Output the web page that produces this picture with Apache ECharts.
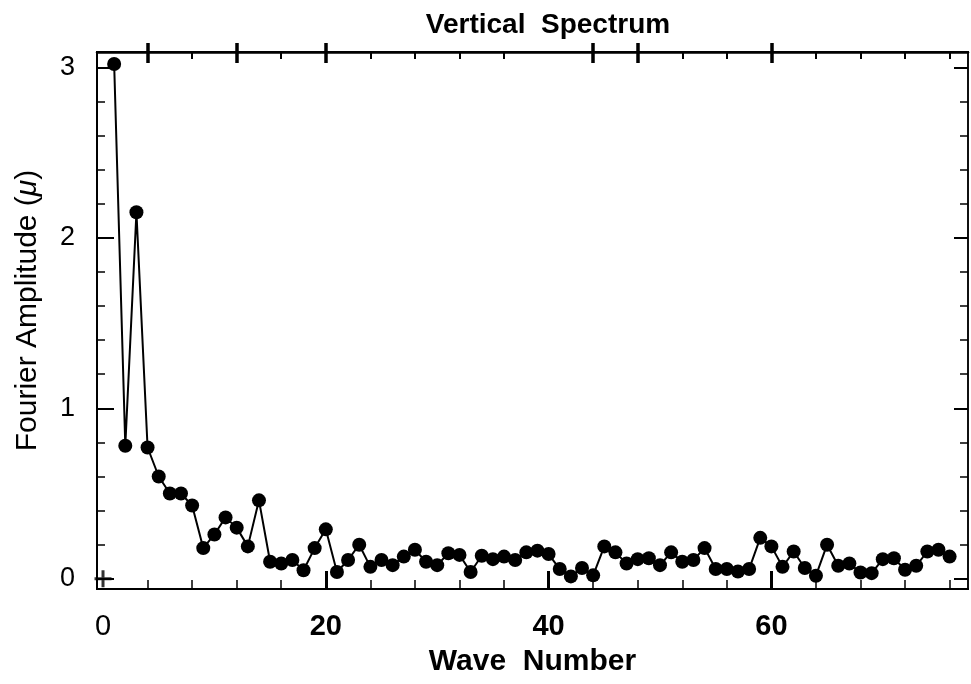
<!DOCTYPE html>
<html>
<head>
<meta charset="utf-8">
<script src="https://cdn.jsdelivr.net/npm/echarts@6/dist/echarts.min.js"></script>
<style>
html,body{margin:0;padding:0;background:#fff;}
#c{width:971px;height:684px;}
</style>
</head>
<body>
<div id="c"></div>
<script>
const waveNumbers = [1,2,3,4,5,6,7,8,9,10,11,12,13,14,15,16,17,18,19,20,21,22,23,24,25,26,27,28,29,30,31,32,33,34,35,36,37,38,39,40,41,42,43,44,45,46,47,48,49,50,51,52,53,54,55,56,57,58,59,60,61,62,63,64,65,66,67,68,69,70,71,72,73,74,75,76];
const amplitudes = [3.02,0.78,2.15,0.77,0.60,0.50,0.50,0.43,0.18,0.26,
  0.36,0.30,0.19,0.46,0.10,0.09,0.11,0.05,0.18,0.29,
  0.04,0.11,0.20,0.07,0.11,0.08,0.13,0.17,0.10,0.08,
  0.15,0.14,0.04,0.135,0.115,0.13,0.11,0.155,0.165,0.145,
  0.057,0.014,0.063,0.02,0.19,0.155,0.09,0.115,0.12,0.08,
  0.155,0.10,0.11,0.18,0.057,0.057,0.043,0.057,0.24,0.19,
  0.07,0.16,0.063,0.018,0.20,0.076,0.09,0.037,0.033,0.115,
  0.12,0.053,0.076,0.16,0.17,0.13];
const originMark = [[0, 0]];

const xMinorTicks = [4,8,12,16,24,28,32,36,44,48,52,56,64,68,72,76];
const xMajorTicks = [20,40,60];
const xLabels = [0,20,40,60];
const topMinorTicks = [8,16,24,28,32,36,52,56,64,68,72,76];
const topMajorTicks = [4,12,20,44,48,60];
const yMinorTicks = [0.2,0.4,0.6,0.8,1.2,1.4,1.6,1.8,2.2,2.4,2.6,2.8];
const yMajorTicks = [0,1,2,3];
const yLabels = [0,1,2,3];

const title = 'Vertical  Spectrum';
const xName = 'Wave  Number';

const FONT = '"Liberation Sans", Arial, Helvetica, sans-serif';
const X_MIN = -0.54, X_MAX = 77.65, Y_MIN = -0.06, Y_MAX = 3.09;

function xAx(o) {
  return Object.assign({
    type: 'value', min: X_MIN, max: X_MAX, gridIndex: 0,
    splitLine: {show: false},
    axisLine: {show: true, onZero: false, lineStyle: {color: '#000', width: 2}},
    axisLabel: {show: false},
    axisTick: {show: false}
  }, o);
}
function yAx(o) {
  return Object.assign({
    type: 'value', min: Y_MIN, max: Y_MAX, gridIndex: 0,
    splitLine: {show: false},
    axisLine: {show: true, onZero: false, lineStyle: {color: '#000', width: 1.5}},
    axisLabel: {show: false},
    axisTick: {show: false}
  }, o);
}

const chart = echarts.init(document.getElementById('c'), null, {renderer: 'canvas'});
chart.setOption({
  backgroundColor: '#fff',
  animation: false,
  title: {
    text: title, left: 543, top: 6, textAlign: 'center',
    textStyle: {fontFamily: FONT, fontSize: 28, fontWeight: 'bold', color: '#000'}
  },
  grid: {left: 97, right: 3, top: 52, bottom: 95, containLabel: false},
  xAxis: [
    xAx({
      position: 'bottom',
      name: xName, nameLocation: 'middle', nameGap: 58,
      nameTextStyle: {fontFamily: FONT, fontSize: 30, fontWeight: 'bold', color: '#000'},
      axisTick: {show: true, inside: true, length: 9, customValues: xMinorTicks, lineStyle: {color: '#000', width: 1.5}},
      axisLabel: {
        show: true, customValues: xLabels, margin: 23,
        formatter: v => (v === 0 ? '{r|0}' : '{b|' + v + '}'),
        rich: {
          r: {fontFamily: FONT, fontSize: 29, color: '#000'},
          b: {fontFamily: FONT, fontSize: 29, fontWeight: 'bold', color: '#000'}
        }
      }
    }),
    xAx({
      position: 'bottom',
      axisTick: {show: true, inside: true, length: 18, customValues: xMajorTicks, lineStyle: {color: '#000', width: 3}}
    }),
    xAx({
      position: 'top',
      axisLine: {show: true, onZero: false, lineStyle: {color: '#000', width: 2.5}},
      axisTick: {show: true, inside: true, length: 7, customValues: topMinorTicks, lineStyle: {color: '#000', width: 2}}
    }),
    xAx({
      position: 'top',
      axisTick: {show: true, inside: true, length: 11, customValues: topMajorTicks, lineStyle: {color: '#000', width: 3.5}}
    }),
    xAx({
      position: 'top',
      axisTick: {show: true, inside: false, length: 9, customValues: topMajorTicks, lineStyle: {color: '#000', width: 3.5}}
    })
  ],
  yAxis: [
    yAx({
      position: 'left',
      name: '{t|Fourier Amplitude (}{i|\u03bc}{t|)}', nameLocation: 'middle', nameGap: 54, nameRotate: 90,
      nameTextStyle: {fontFamily: FONT, fontSize: 30, color: '#000', padding: [0, 0, 0, 20],
        rich: {
          t: {fontFamily: FONT, fontSize: 30, color: '#000'},
          i: {fontFamily: FONT, fontSize: 30, fontStyle: 'italic', color: '#000'}
        }},
      axisLine: {show: true, onZero: false, lineStyle: {color: '#000', width: 2}},
      axisTick: {show: true, inside: true, length: 8, customValues: yMinorTicks, lineStyle: {color: '#000', width: 1.5}},
      axisLabel: {show: true, customValues: yLabels, margin: 22,
        fontFamily: FONT, fontSize: 27, color: '#000'}
    }),
    yAx({
      position: 'left',
      axisTick: {show: true, inside: true, length: 17, customValues: yMajorTicks, lineStyle: {color: '#000', width: 2}}
    }),
    yAx({
      position: 'right',
      axisTick: {show: true, inside: true, length: 8, customValues: yMinorTicks, lineStyle: {color: '#000', width: 1.5}}
    }),
    yAx({
      position: 'right',
      axisTick: {show: true, inside: true, length: 14, customValues: yMajorTicks, lineStyle: {color: '#000', width: 2}}
    })
  ],
  series: [{
    type: 'line',
    xAxisIndex: 0, yAxisIndex: 0,
    data: waveNumbers.map((w, i) => [w, amplitudes[i]]),
    symbol: 'circle', symbolSize: 14,
    lineStyle: {color: '#000', width: 2},
    itemStyle: {color: '#000'},
    clip: false
  }, {
    type: 'scatter',
    xAxisIndex: 0, yAxisIndex: 0,
    data: originMark,
    symbol: 'path://M7,0h3v7h7v3h-7v7h-3v-7h-7v-3h7z',
    symbolSize: 17,
    itemStyle: {color: '#000'},
    clip: false
  }]
});
</script>
</body>
</html>
